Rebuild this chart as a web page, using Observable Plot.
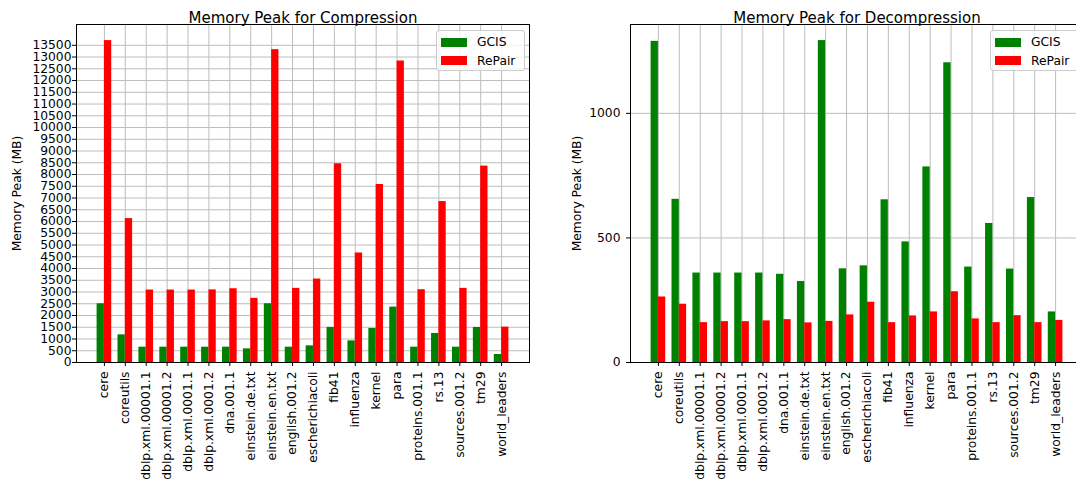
<!DOCTYPE html>
<html>
<head>
<meta charset="utf-8">
<script src="https://cdn.jsdelivr.net/npm/d3@7"></script>
<script src="https://cdn.jsdelivr.net/npm/@observablehq/plot@0.6"></script>
<style>
  html, body { margin: 0; padding: 0; background: #fff; overflow: hidden; }
  #root { position: relative; width: 1076px; height: 482px; overflow: hidden; font-family: "DejaVu Sans", sans-serif; }
  .panel { position: absolute; top: 0; }
  .panel svg text { font-family: "DejaVu Sans", sans-serif; }
  .panel svg g[aria-label="x-axis tick label"], .panel svg g[aria-label="y-axis tick label"] { font-size: 12.3px; }
  .legend { position: absolute; top: 30px; width: 89px; height: 41px; box-sizing: border-box;
            background: rgba(255,255,255,0.8); border: 1px solid #cccccc; border-radius: 3px;
            font-size: 12.3px; color: #000; }
  .legend .row { position: absolute; left: 4px; height: 14px; display: flex; align-items: center; }
  .legend .sw { width: 26px; height: 9px; margin-right: 10px; }
</style>
</head>
<body>
<div id="root"></div>
<script>
const categories = ["cere","coreutils","dblp.xml.00001.1","dblp.xml.00001.2","dblp.xml.0001.1","dblp.xml.0001.2","dna.001.1","einstein.de.txt","einstein.en.txt","english.001.2","escherichiacoli","fib41","influenza","kernel","para","proteins.001.1","rs.13","sources.001.2","tm29","world_leaders"];

const compGCIS   = [2500,1177,652,652,652,652,652,580,2500,652,708,1492,921,1450,2358,652,1237,652,1492,341];
const compRePair = [13700,6124,3083,3083,3083,3090,3139,2729,13315,3155,3552,8457,4661,7577,12832,3097,6849,3155,8358,1505];
const decGCIS    = [1289,655,359,359,359,359,354,325,1292,376,388,653,484,785,1203,383,558,375,662,203];
const decRePair  = [263,234,160,164,164,167,172,159,165,191,242,160,187,203,284,175,160,188,160,169];

const compTicks = d3.range(0, 14000, 500);
const decTicks = [0, 500, 1000];

const seriesNames = ["GCIS", "RePair"];
const seriesColors = ["green", "red"];

const BW = 0.35;

function chart({title, gcis, repair, yTicks, left, width, marginLeft, marginRight, tickPadding, ylabelDx}) {
  const rows = categories.map((c, i) => ({i, c, gcis: gcis[i], repair: repair[i]}));
  const xTicks = categories.map((c, i) => i + BW / 2);
  const ymax = d3.max([...gcis, ...repair]) * 1.05;
  const n = categories.length;
  const pad = (n - 1 + BW * 2) * 0.05;
  const plot = Plot.plot({
    width, height: 482,
    marginLeft, marginRight, marginTop: 24, marginBottom: 120,
    style: {fontFamily: "'DejaVu Sans', sans-serif", fontSize: "12.3px", color: "#000", background: "transparent", overflow: "visible"},
    x: {domain: [-BW / 2 - pad, n - 1 + BW * 1.5 + pad], axis: null},
    y: {domain: [0, ymax], axis: null},
    marks: [
      Plot.gridX(xTicks, {stroke: "#bdbdbd", strokeOpacity: 1, strokeWidth: 1}),
      Plot.gridY(yTicks, {stroke: "#bdbdbd", strokeOpacity: 1, strokeWidth: 1}),
      Plot.rectY(rows, {x1: d => d.i - BW / 2, x2: d => d.i + BW / 2, y: "gcis", fill: seriesColors[0]}),
      Plot.rectY(rows, {x1: d => d.i + BW / 2, x2: d => d.i + BW * 1.5, y: "repair", fill: seriesColors[1]}),
      Plot.frame({stroke: "#000", strokeWidth: 1}),
      Plot.axisX(xTicks, {tickFormat: d => categories[Math.round(d - BW / 2)], tickRotate: -90, tickSize: 4, tickPadding: 5, fontSize: 12.3, label: null}),
      Plot.axisY(yTicks, {tickFormat: d => String(d), tickSize: 4, tickPadding, fontSize: 12.3, label: null}),
      Plot.text([title], {frameAnchor: "top", dy: -12.5, fontSize: 15, textAnchor: "middle", fill: "#000"}),
      Plot.text(["Memory Peak (MB)"], {frameAnchor: "left", dx: ylabelDx, rotate: -90, textAnchor: "middle", fontSize: 12.3, fill: "#000"})
    ]
  });
  const panel = document.createElement("div");
  panel.className = "panel";
  panel.style.left = left + "px";
  panel.style.width = width + "px";
  panel.appendChild(plot);
  const lg = document.createElement("div");
  lg.className = "legend";
  lg.style.left = (width - marginRight - 4 - 89) + "px";
  seriesNames.forEach((s, k) => {
    const r = document.createElement("div");
    r.className = "row";
    r.style.top = (4 + k * 18.5) + "px";
    const sw = document.createElement("div");
    sw.className = "sw";
    sw.style.background = seriesColors[k];
    const t = document.createElement("span");
    t.textContent = s;
    r.appendChild(sw); r.appendChild(t);
    lg.appendChild(r);
  });
  panel.appendChild(lg);
  return panel;
}

const root = document.getElementById("root");
root.appendChild(chart({title: "Memory Peak for Compression", gcis: compGCIS, repair: compRePair, yTicks: compTicks,
  left: 0, width: 540, marginLeft: 76, marginRight: 11, tickPadding: 1, ylabelDx: -59}));
root.appendChild(chart({title: "Memory Peak for Decompression", gcis: decGCIS, repair: decRePair, yTicks: decTicks,
  left: 540, width: 560, marginLeft: 90, marginRight: 17, tickPadding: 6, ylabelDx: -53}));
</script>
</body>
</html>
